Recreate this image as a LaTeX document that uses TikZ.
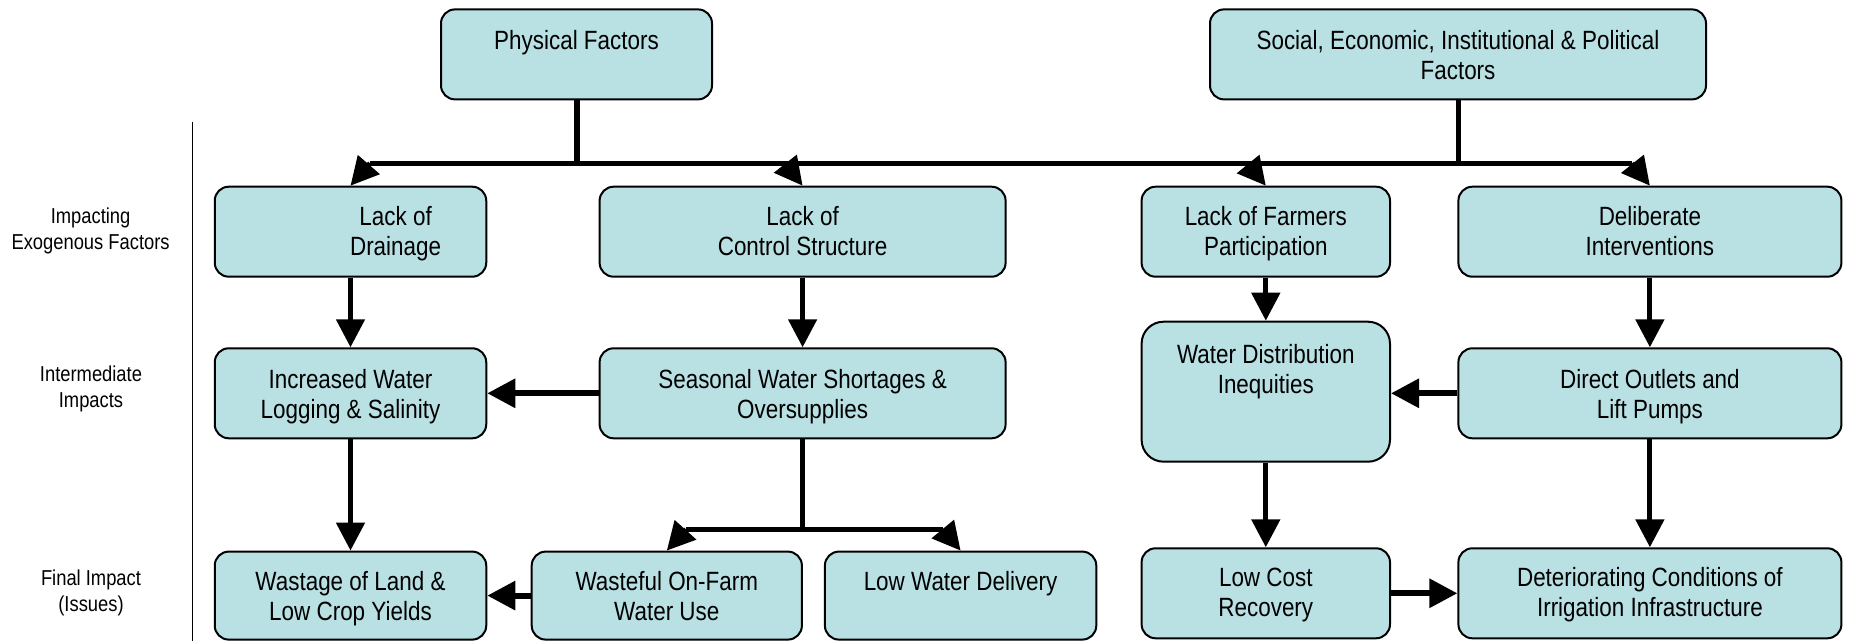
\documentclass[tikz,border=0pt]{standalone}
\usepackage{fontspec}
\setmainfont[FakeStretch=0.85]{Liberation Sans}
\usetikzlibrary{arrows.meta}
\definecolor{boxfill}{RGB}{185,224,227}
\begin{document}
\begin{tikzpicture}[x=0.5pt,y=-0.5pt,
  box/.style={draw=black, line width=1pt, fill=boxfill, rounded corners=7pt, inner sep=0pt},
  sz/.style 2 args={minimum width=#1*0.5pt, minimum height=#2*0.5pt},
  txt/.style={align=center, font=\fontsize{13.2}{15}\selectfont, inner sep=0pt},
  lbl/.style={align=center, font=\fontsize{10.8}{13}\selectfont, inner sep=0pt},
  ln/.style={line width=2.5pt},
  arr/.style={line width=2.5pt, -{Triangle[length=14pt,width=14pt]}},
]
\useasboundingbox (0,0) rectangle (1854,641);

% boxes
\node[box, sz={271}{90}] (pf) at (576.5,54.4) {};
\node[box, sz={496}{90}] (sf) at (1458,54.4) {};
\node[box, sz={271.5}{90}] (ld) at (350.5,231.7) {};
\node[box, sz={406}{90}] (lc) at (802.6,231.7) {};
\node[box, sz={248.4}{90}] (lf) at (1265.8,231.7) {};
\node[box, sz={383}{90}] (di) at (1649.9,231.7) {};
\node[box, sz={271.5}{90}] (iw) at (350.5,393.3) {};
\node[box, sz={406}{90}] (sw) at (802.6,393.3) {};
\node[box, sz={248.4}{140}, rounded corners=11pt] (wd) at (1265.8,391.7) {};
\node[box, sz={383}{90}] (do) at (1649.9,393.3) {};
\node[box, sz={271.5}{88}] (wl) at (350.5,595.6) {};
\node[box, sz={270.2}{88}] (wf) at (666.8,595.6) {};
\node[box, sz={271.4}{88}] (lw) at (960.6,595.6) {};
\node[box, sz={248.4}{90}] (lcr) at (1265.8,593.3) {};
\node[box, sz={383}{90}] (dc) at (1649.9,593.3) {};

% box texts
\node[txt] (pfT) at (576.5,43.3) {\strut Physical Factors};
\node[txt] (sfT) at (1458,58.3) {\strut Social, Economic, Institutional \& Political\\\strut Factors};
\node[txt] (ldT) at (395.6,235) {\strut Lack of\\\strut Drainage};
\node[txt] (lcT) at (802.6,235) {\strut Lack of\\\strut Control Structure};
\node[txt] (lfT) at (1265.8,235) {\strut Lack of Farmers\\\strut Participation};
\node[txt] (diT) at (1649.9,235) {\strut Deliberate\\\strut Interventions};
\node[txt] (iwT) at (350.5,397.3) {\strut Increased Water\\\strut Logging \& Salinity};
\node[txt] (swT) at (802.6,397.3) {\strut Seasonal Water Shortages \&\\\strut Oversupplies};
\node[txt] (wdT) at (1265.8,372.3) {\strut Water Distribution\\\strut Inequities};
\node[txt] (doT) at (1649.9,397.3) {\strut Direct Outlets and\\\strut Lift Pumps};
\node[txt] (wlT) at (350.5,599.5) {\strut Wastage of Land \&\\\strut Low Crop Yields};
\node[txt] (wfT) at (666.8,599.5) {\strut Wasteful On-Farm\\\strut Water Use};
\node[txt] (lwT) at (960.6,584) {\strut Low Water Delivery};
\node[txt] (lcrT) at (1265.8,595.7) {\strut Low Cost\\\strut Recovery};
\node[txt] (dcT) at (1649.9,595.7) {\strut Deteriorating Conditions of\\\strut Irrigation Infrastructure};

% left labels
\node[lbl] (exT) at (90.6,231.8) {\strut Impacting\\\strut Exogenous Factors};
\node[lbl] (imT) at (91,389.5) {\strut Intermediate\\\strut Impacts};
\node[lbl] (fiT) at (91,592.8) {\strut Final Impact\\\strut (Issues)};

% separator
\coordinate (sepA) at (192.3,121.7);
\coordinate (sepB) at (192.3,641);
\draw[line width=0.8pt] (sepA) -- (sepB);

% top bus
\coordinate (bL) at (370,163.3);
\coordinate (b2) at (785,163.3);
\coordinate (b3) at (1247.5,163.3);
\coordinate (bR) at (1632,163.3);
\draw[line width=3pt] (pf.south) -- (pf.south |- bL);
\draw[ln] (sf.south) -- ([yshift=-1.5pt]sf.south |- bL);
\draw[ln] (bL) -- (bR);
\draw[arr] (bL) -- (ld.north);
\draw[arr] (b2) -- (lc.north);
\draw[arr] (b3) -- (lf.north);
\draw[arr] (bR) -- (di.north);

% vertical arrows
\draw[arr] (ld.south) -- (iw.north);
\draw[arr] (lc.south) -- (sw.north);
\draw[arr] (lf.south) -- (wd.north);
\draw[arr] (di.south) -- (do.north);
\draw[arr] (iw.south) -- (wl.north);
\draw[arr] (wd.south) -- (lcr.north);
\draw[arr] (do.south) -- (dc.north);

% horizontal arrows
\draw[arr, line width=3pt] (sw.west) -- (iw.east);
\draw[arr, line width=3pt] (do.west) -- (wd.east |- do.west);
\draw[arr, line width=3pt] (wf.west) -- (wl.east |- wf.west);
\draw[arr, line width=3pt] (lcr.east) -- (dc.west);

% lower bus
\coordinate (c1) at (686,529.3);
\coordinate (c2) at (943,529.3);
\draw[ln] (sw.south) -- (sw.south |- c1);
\draw[ln] (c1) -- (c2);
\draw[arr] (c1) -- (wf.north);
\draw[arr] (c2) -- (lw.north);
\end{tikzpicture}
\end{document}
